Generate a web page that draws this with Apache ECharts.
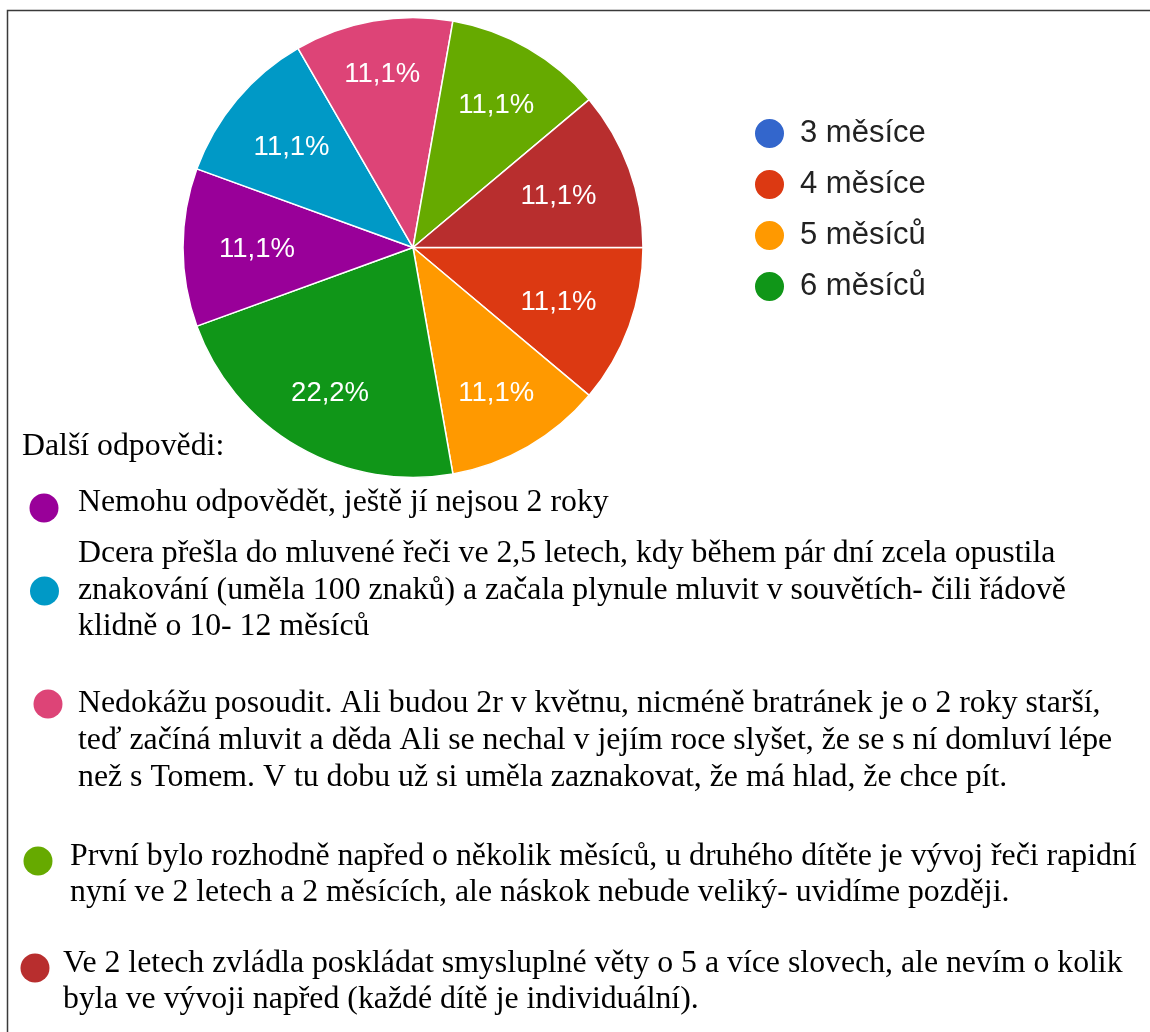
<!DOCTYPE html>
<html>
<head>
<meta charset="utf-8">
<script src="https://cdn.jsdelivr.net/npm/echarts@6/dist/echarts.min.js"></script>
<style>
  html, body { margin: 0; padding: 0; background: #fff; }
  #chart { width: 1150px; height: 1032px; }
</style>
</head>
<body>
<div id="chart"></div>
<script>
// kategorie odpovědí (první čtyři jsou v legendě)
var categories = ['3 měsíce', '4 měsíce', '5 měsíců', '6 měsíců',
  'Nemohu odpovědět', 'Dcera přešla', 'Nedokážu posoudit', 'První bylo', 'Ve 2 letech'];
var counts = [0, 1, 1, 2, 1, 1, 1, 1, 1];
var colors = ['#3366CC', '#DC3912', '#FF9900', '#109618', '#990099',
  '#0099C6', '#DD4477', '#66AA00', '#B82E2E'];
var legendNames = categories.slice(0, 4);

// další odpovědi - řádky textu pod grafem
var otherTitle = 'Další odpovědi:';
var otherAnswers = [
  ['Nemohu odpovědět, ještě jí nejsou 2 roky'],
  ['Dcera přešla do mluvené řeči ve 2,5 letech, kdy během pár dní zcela opustila',
   'znakování (uměla 100 znaků) a začala plynule mluvit v souvětích- čili řádově',
   'klidně o 10- 12 měsíců'],
  ['Nedokážu posoudit. Ali budou 2r v květnu, nicméně bratránek je o 2 roky starší,',
   'teď začíná mluvit a děda Ali se nechal v jejím roce slyšet, že se s ní domluví lépe',
   'než s Tomem. V tu dobu už si uměla zaznakovat, že má hlad, že chce pít.'],
  ['První bylo rozhodně napřed o několik měsíců, u druhého dítěte je vývoj řeči rapidní',
   'nyní ve 2 letech a 2 měsících, ale náskok nebude veliký- uvidíme později.'],
  ['Ve 2 letech zvládla poskládat smysluplné věty o 5 a více slovech, ale nevím o kolik',
   'byla ve vývoji napřed (každé dítě je individuální).']
];

var total = counts.reduce(function (a, b) { return a + b; }, 0);
var pieData = categories.map(function (name, i) {
  return { name: name, value: counts[i], itemStyle: { color: colors[i] } };
});

var pieCenter = [413, 247.5];
var pieRadius = 230;

// pozice bloků textu (tečka + řádky)
var blocks = [
  { dotX: 44, dotY: 508, textX: 78, lineY: [503] },
  { dotX: 44.5, dotY: 591, textX: 78, lineY: [554, 591, 627] },
  { dotX: 48, dotY: 704, textX: 78, lineY: [704, 741, 778] },
  { dotX: 38, dotY: 861, textX: 70, lineY: [857, 893] },
  { dotX: 35, dotY: 968, textX: 63, lineY: [964, 1000] }
];

var serifFont = '"Liberation Serif", "Times New Roman", serif';
var textFont = '31.8px ' + serifFont;
var graphics = [{
  type: 'rect',
  shape: { x: 7.5, y: 10.5, width: 1300, height: 1200 },
  style: { fill: 'none', stroke: '#3a3a3a', lineWidth: 1.5 },
  silent: true
}, {
  type: 'text',
  x: 22, y: 447,
  style: { text: otherTitle, font: textFont, fill: '#000', verticalAlign: 'middle' }
}];

blocks.forEach(function (b, i) {
  graphics.push({
    type: 'circle',
    shape: { cx: b.dotX, cy: b.dotY, r: 14.5 },
    style: { fill: colors[4 + i] },
    silent: true
  });
  otherAnswers[i].forEach(function (line, j) {
    graphics.push({
      type: 'text',
      x: b.textX, y: b.lineY[j],
      style: { text: line, font: textFont, fill: '#000', verticalAlign: 'middle' }
    });
  });
});

function pctLabel(p) {
  if (!p.value) return '';
  return (p.value / total * 100).toFixed(1).replace('.', ',') + '%';
}

// popisek posunut tak, aby jeho vnější okraj ležel na stejném poloměru
function placeLabel(params) {
  var i = params.dataIndex;
  var before = 0;
  for (var k = 0; k < i; k++) before += counts[k];
  var mid = (before + counts[i] / 2) / total * Math.PI * 2;
  var c = Math.cos(mid), s = Math.sin(mid);
  var hw = params.labelRect.width / 2, hh = 10;
  var d = 194 - (hw * Math.abs(c) + hh * Math.abs(s));
  return { x: pieCenter[0] + d * c, y: pieCenter[1] + d * s + 2 };
}

var myChart = echarts.init(document.getElementById('chart'));
myChart.setOption({
  animation: false,
  legend: {
    data: legendNames,
    orient: 'vertical',
    left: 753,
    top: 117,
    padding: 0,
    icon: 'circle',
    itemWidth: 31,
    itemHeight: 31,
    itemGap: 18,
    selectedMode: false,
    textStyle: {
      fontFamily: 'Arial, "Liberation Sans", sans-serif',
      fontSize: 31,
      color: '#222',
      lineHeight: 31,
      padding: [0, 0, 0, 10]
    }
  },
  series: [{
    name: 'odpovědi',
    type: 'pie',
    center: pieCenter,
    radius: [0, pieRadius],
    startAngle: 0,
    clockwise: true,
    silent: true,
    data: pieData,
    label: {
      show: true,
      position: 'inside',
      formatter: pctLabel,
      color: '#fff',
      fontFamily: 'Arial, "Liberation Sans", sans-serif',
      fontSize: 27.5
    },
    labelLayout: placeLabel,
    labelLine: { show: false },
    itemStyle: { borderColor: '#fff', borderWidth: 1.5 }
  }],
  graphic: graphics
});
</script>
</body>
</html>
